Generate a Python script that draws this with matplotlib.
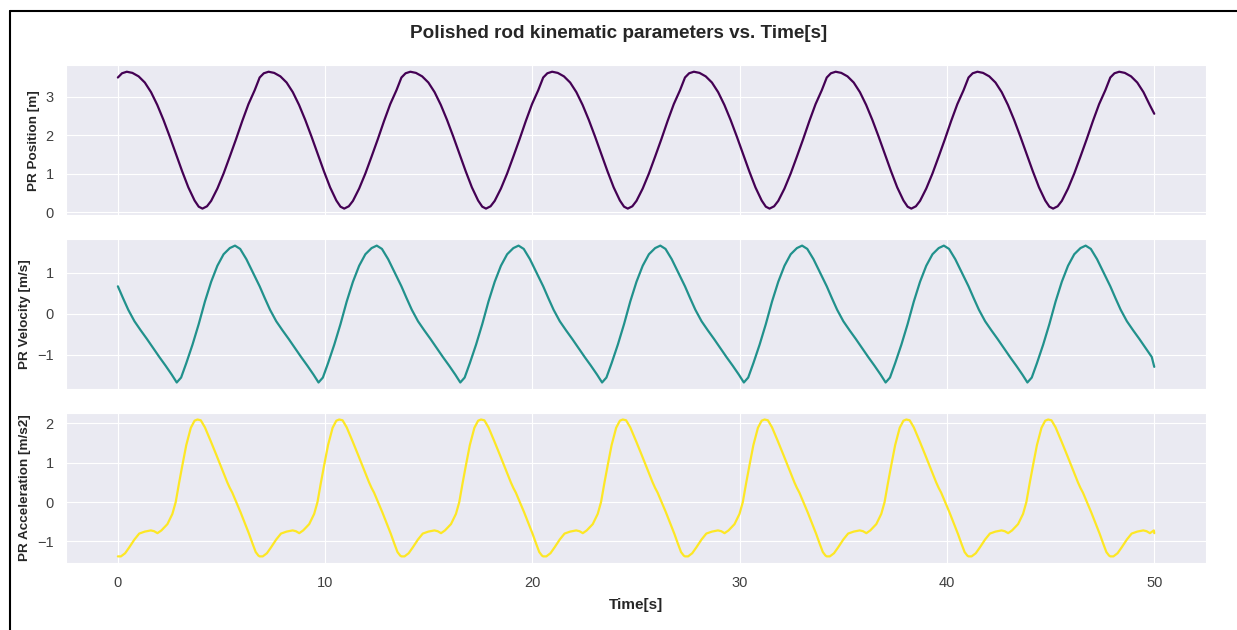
import matplotlib
matplotlib.use("Agg")
import matplotlib.pyplot as plt
from matplotlib.lines import Line2D
import seaborn as sns
import numpy as np

# one stroke cycle, repeated over the 50 s record
period = 6.84
t_end = 50.0

pos_t = [0.0, 0.2, 0.43, 0.7, 1.0, 1.3, 1.6, 1.9, 2.2, 2.5, 2.8, 3.1, 3.4, 3.7,
         3.9, 4.08, 4.3, 4.5, 4.8, 5.1, 5.4, 5.7, 6.0, 6.3, 6.6]
pos_v = [3.50, 3.61, 3.65, 3.62, 3.53, 3.37, 3.12, 2.79, 2.40, 1.97, 1.52, 1.07,
         0.65, 0.31, 0.15, 0.10, 0.16, 0.30, 0.62, 1.01, 1.45, 1.90, 2.37, 2.81, 3.17]
pos_last = 2.56

vel_t = [0.0, 0.25, 0.5, 0.8, 1.1, 1.4, 1.7, 2.0, 2.3, 2.6, 2.84, 3.05, 3.3, 3.6,
         3.9, 4.2, 4.5, 4.8, 5.1, 5.4, 5.65, 5.9, 6.2, 6.5]
vel_v = [0.67, 0.38, 0.10, -0.18, -0.40, -0.61, -0.83, -1.05, -1.26, -1.48, -1.67,
         -1.55, -1.20, -0.75, -0.25, 0.30, 0.78, 1.17, 1.45, 1.60, 1.66, 1.58, 1.33, 1.02]
vel_last = -1.29

acc_t = [0.0, 0.15, 0.35, 0.55, 0.8, 1.03, 1.3, 1.59, 1.75, 1.91, 2.1, 2.39, 2.63,
         2.79, 2.95, 3.12, 3.3, 3.52, 3.7, 3.84, 4.0, 4.2, 4.48, 4.75, 4.96, 5.15,
         5.28, 5.4, 5.52, 5.72, 5.92, 6.13, 6.33, 6.5, 6.65, 6.78]
acc_v = [-1.38, -1.38, -1.30, -1.15, -0.95, -0.80, -0.75, -0.72, -0.74, -0.79,
         -0.72, -0.56, -0.30, 0.00, 0.48, 0.96, 1.45, 1.89, 2.07, 2.10, 2.08, 1.90,
         1.55, 1.20, 0.92, 0.66, 0.50, 0.36, 0.24, -0.01, -0.26, -0.54, -0.81,
         -1.06, -1.27, -1.36]
acc_last = -0.79

titles = ["PR Position [m]", "PR Velocity [m/s]", "PR Acceleration [m/s2]"]
colors = ["#440154", "#21918c", "#fde725"]


def build_series(cyc_t, cyc_v, last):
    n = int(np.ceil(t_end / period))
    t = np.concatenate([np.array(cyc_t) + k * period for k in range(n)])
    v = np.tile(cyc_v, n)
    keep = t < t_end
    t = np.append(t[keep], t_end)
    v = np.append(v[keep], last)
    return t, v


sns.set_style("darkgrid")
plt.rcParams['font.family'] = ['Liberation Sans', 'DejaVu Sans']

fig, axes = plt.subplots(3, 1, figsize=(12.37, 6.3), dpi=100, sharex=True)
fig.subplots_adjust(left=0.0534, right=0.975, top=0.897, bottom=0.106, hspace=0.155)

series = [build_series(pos_t, pos_v, pos_last),
          build_series(vel_t, vel_v, vel_last),
          build_series(acc_t, acc_v, acc_last)]

for ax, (t, v), lab, col in zip(axes, series, titles, colors):
    ax.plot(t, v, color=col, linewidth=1.6)
    ax.set_ylabel(lab, fontsize=9.7, fontweight='bold', color='#262626', labelpad=4)
    ax.tick_params(labelsize=10.5, colors='#404040', length=0, pad=9)

axes[0].set_yticks([0, 1, 2, 3])
axes[1].set_yticks([-1, 0, 1])
axes[2].set_yticks([-1, 0, 1, 2])
axes[2].set_xticks([0, 10, 20, 30, 40, 50])
axes[2].set_xlabel("Time[s]", fontsize=11, fontweight='bold', color='#262626',
                   labelpad=6)

fig.suptitle("Polished rod kinematic parameters vs. Time[s]", fontsize=13.6,
             fontweight='bold', color='#262626', y=0.96)

# frame lines from the screenshot (top and left edges)
fig.add_artist(Line2D([0.008, 1.0], [0.983, 0.983], transform=fig.transFigure,
                      color='black', linewidth=1.5))
fig.add_artist(Line2D([0.008, 0.008], [0.0, 0.983], transform=fig.transFigure,
                      color='black', linewidth=1.5))

fig.savefig("out.png", dpi=100)
